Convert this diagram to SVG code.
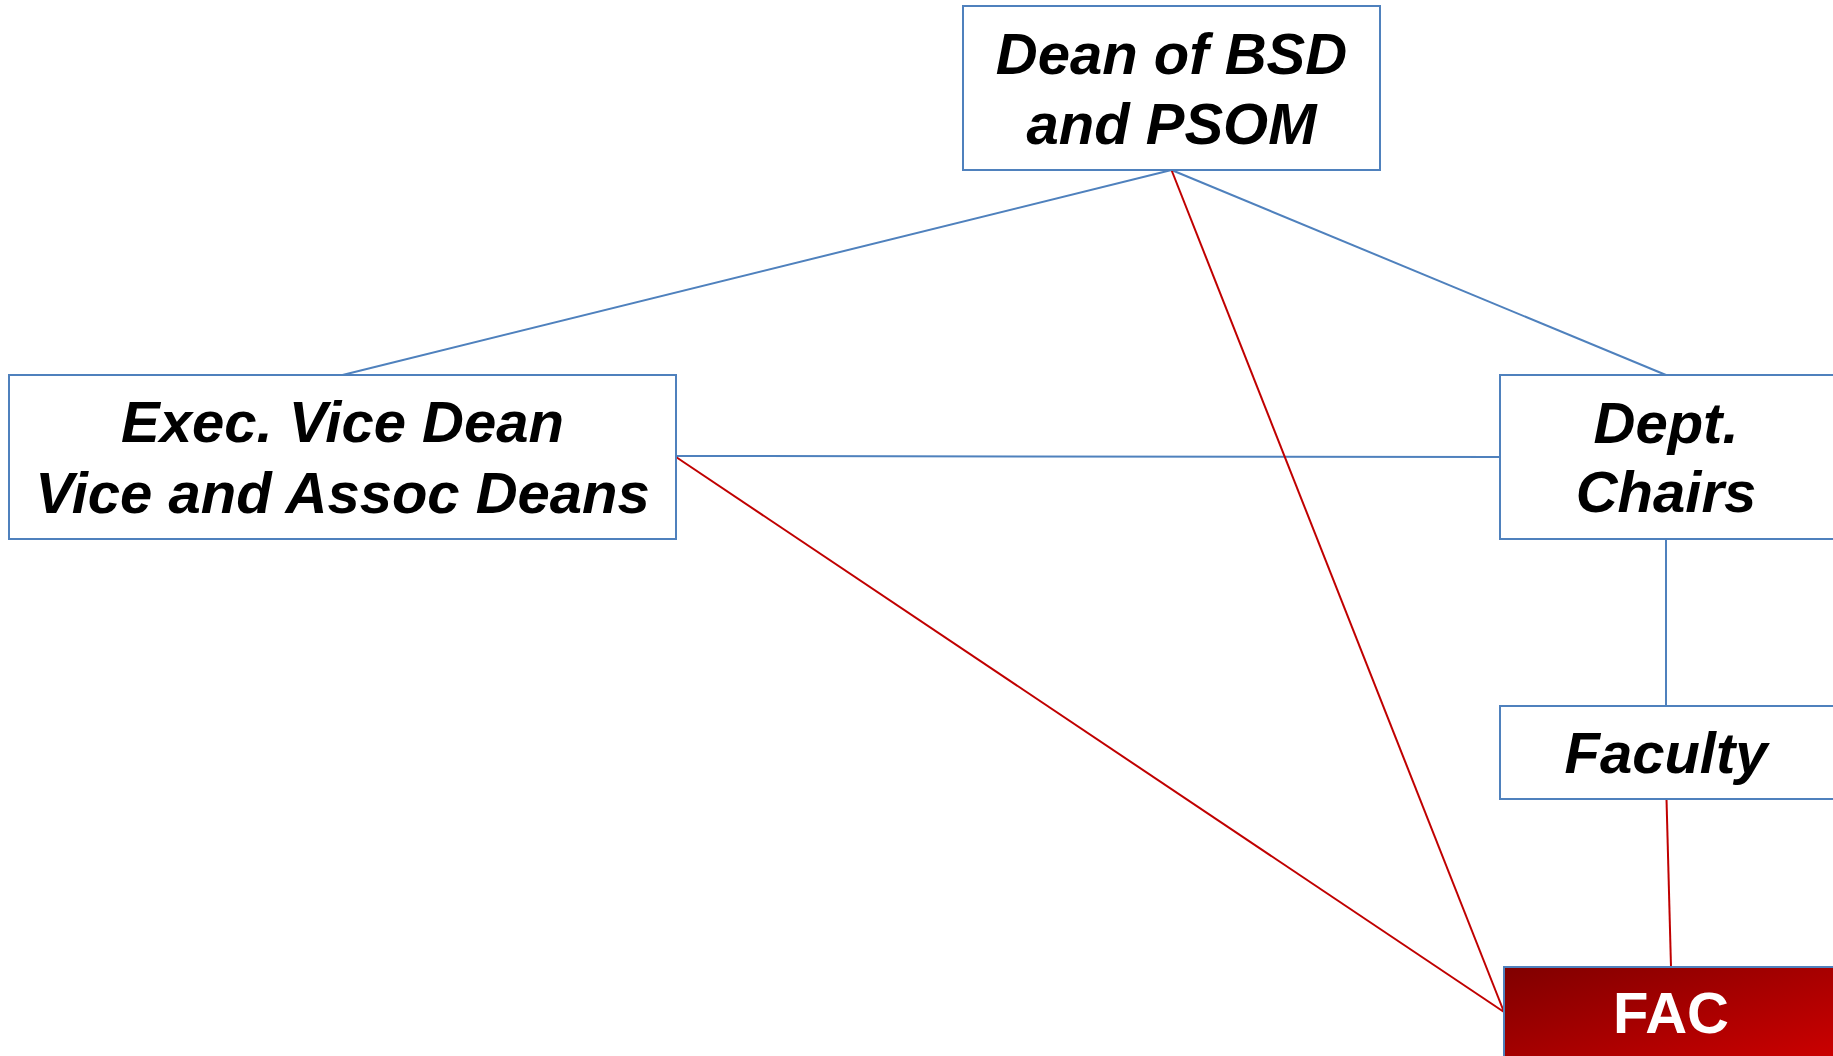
<svg xmlns="http://www.w3.org/2000/svg" width="1833" height="1056" viewBox="0 0 1833 1056">
<style>
.box{fill:#ffffff;stroke:#4f81bd;stroke-width:2}
.lbl{font-family:"Liberation Sans",Arial,sans-serif;font-weight:bold;font-style:italic;font-size:58px;fill:#000000;text-anchor:middle}
.fac{font-family:"Liberation Sans",Arial,sans-serif;font-weight:bold;font-size:58px;fill:#ffffff;text-anchor:middle}
.blue{stroke:#4f81bd;stroke-width:2;fill:none}
.red{stroke:#c00000;stroke-width:2;fill:none}
</style>
<defs>
<linearGradient id="facg" x1="0" y1="0" x2="1" y2="1">
<stop offset="0" stop-color="#800000"/>
<stop offset="1" stop-color="#d00000"/>
</linearGradient>
</defs>
<g id="connectors">
<line class="blue" x1="1171.5" y1="170" x2="342.5" y2="375"/>
<line class="blue" x1="1171.5" y1="170" x2="1666" y2="375"/>
<line class="blue" x1="676" y1="456" x2="1500" y2="457"/>
<line class="blue" x1="1666" y1="539" x2="1666" y2="706"/>
<line class="red" x1="1171.5" y1="170" x2="1504" y2="1012"/>
<line class="red" x1="676" y1="457" x2="1504" y2="1012"/>
<line class="red" x1="1666.5" y1="799" x2="1671" y2="967"/>
</g>
<g id="dean">
<rect class="box" x="963" y="6" width="417" height="164"/>
<text class="lbl" x="1171.5" y="74">Dean of BSD</text>
<text class="lbl" x="1171.5" y="144">and PSOM</text>
</g>
<g id="exec">
<rect class="box" x="9" y="375" width="667" height="164"/>
<text class="lbl" x="342.5" y="442">Exec. Vice Dean</text>
<text class="lbl" x="342.5" y="513">Vice and Assoc Deans</text>
</g>
<g id="dept">
<rect class="box" x="1500" y="375" width="334" height="164"/>
<text class="lbl" x="1666" y="443">Dept.</text>
<text class="lbl" x="1666" y="512">Chairs</text>
</g>
<g id="faculty">
<rect class="box" x="1500" y="706" width="334" height="93"/>
<text class="lbl" x="1666" y="773">Faculty</text>
</g>
<g id="fac">
<rect x="1504" y="967" width="340" height="100" fill="url(#facg)" stroke="#4f81bd" stroke-width="2"/>
<text class="fac" x="1671" y="1033">FAC</text>
</g>
</svg>
